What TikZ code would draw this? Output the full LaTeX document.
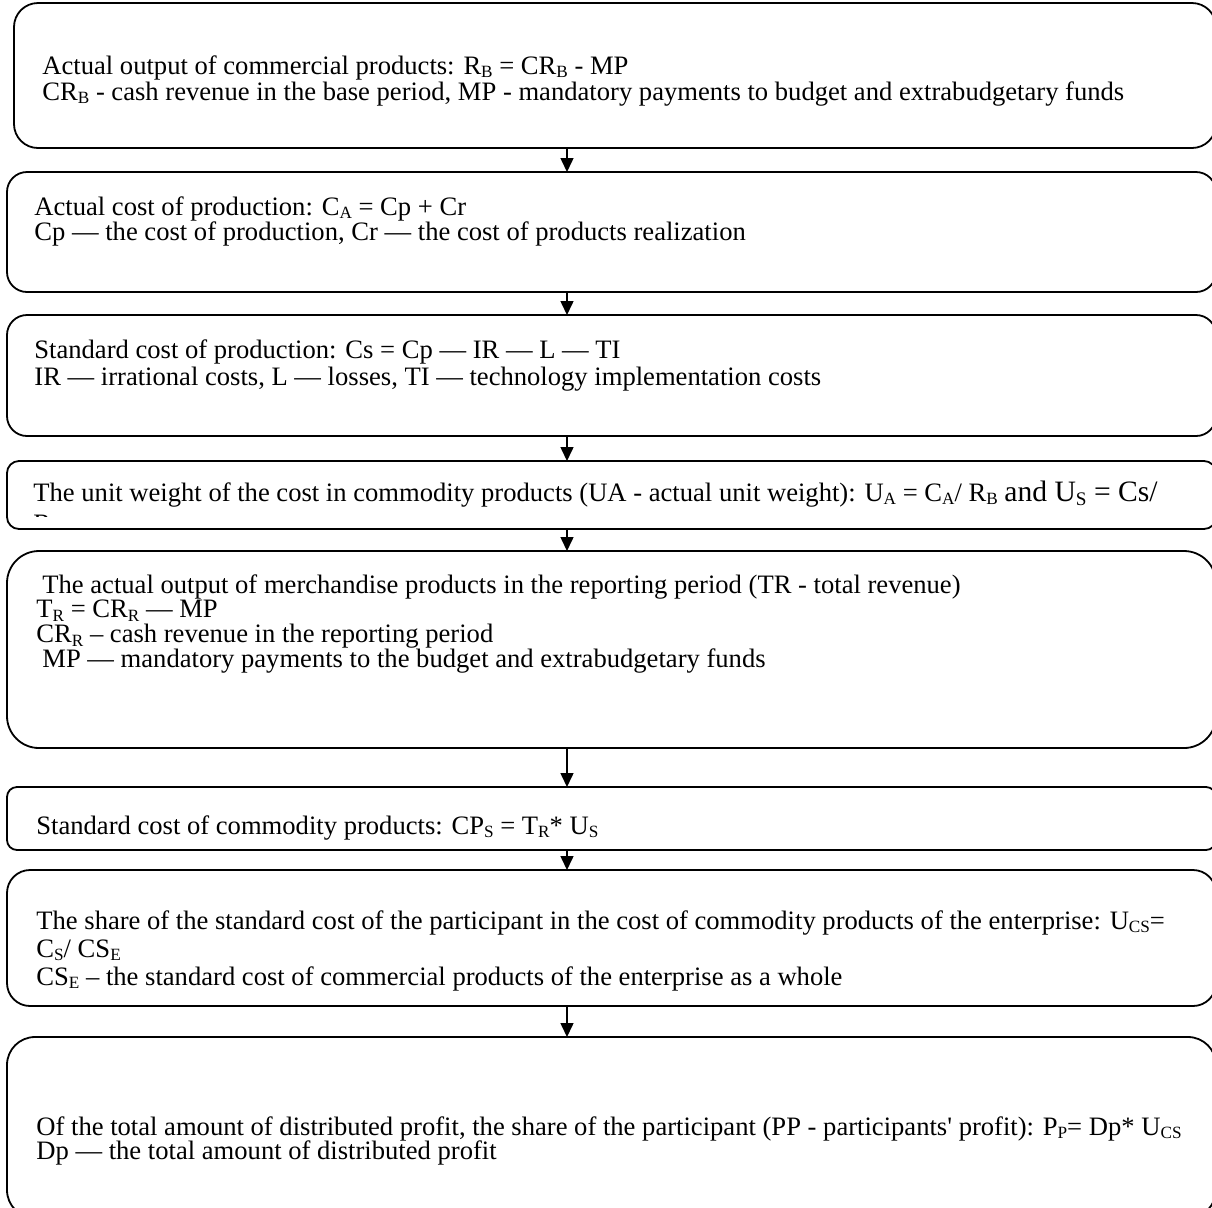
\documentclass[tikz,border=0pt]{standalone}
\usepackage{fontspec}
\setmainfont{Liberation Serif}[Ligatures=TeXOff]
\usetikzlibrary{arrows.meta}
\newcommand\sbs[1]{\raisebox{-0.14em}{\fontsize{8.6}{8.6}\selectfont #1}}
\newcommand\sbsL[1]{\raisebox{-0.14em}{\fontsize{9.6}{9.6}\selectfont #1}}
\newcommand\textlines[2]{\parbox[t]{590pt}{\fontsize{13.3}{#1}\selectfont\lineskiplimit=-50pt\raggedright #2}}
\tikzset{
  boxline/.style={draw=black, line width=0.9pt},
  txt/.style={anchor=base west, inner sep=0pt, font=\fontsize{13.3}{15}\selectfont},
  conn/.style={line width=0.75pt, -{Triangle[length=7pt,width=6.5pt]}},
}
\begin{document}
\begin{tikzpicture}[x=0.5pt,y=-0.5pt]
\useasboundingbox (0,0) rectangle (1212,1207);
\clip (0,0) rectangle (1212,1207);
% boxes
\draw[boxline, rounded corners=12pt] (14,3) rectangle (1216,148);
\draw[boxline, rounded corners=10pt] (7,172) rectangle (1216,292);
\draw[boxline, rounded corners=10pt] (7,315) rectangle (1216,436);
\draw[boxline, rounded corners=6pt] (7,461) rectangle (1216,529);
\draw[boxline, rounded corners=16pt] (7,551) rectangle (1216,748);
\draw[boxline, rounded corners=5pt] (7,787) rectangle (1216,850);
\draw[boxline, rounded corners=11.5pt] (7,870) rectangle (1216,1006);
\draw[boxline, rounded corners=14pt] (7,1037) rectangle (1216,1218);
% connector anchors
\coordinate (a1) at (567,148); \coordinate (b2) at (567,172);
\coordinate (a2) at (567,292); \coordinate (b3) at (567,315);
\coordinate (a3) at (567,436); \coordinate (b4) at (567,461);
\coordinate (a4) at (567,529); \coordinate (b5) at (567,551);
\coordinate (a5) at (567,748); \coordinate (b6) at (567,787);
\coordinate (a6) at (567,850); \coordinate (b7) at (567,870);
\coordinate (a7) at (567,1006); \coordinate (b8) at (567,1037);
\draw[conn] (a1) -- (b2);
\draw[conn] (a2) -- (b3);
\draw[conn] (a3) -- (b4);
\draw[conn] (a4) -- (b5);
\draw[conn] (a5) -- (b6);
\draw[conn] (a6) -- (b7);
\draw[conn] (a7) -- (b8);
% box 1
\node[txt] (t1) at (42,74) {\textlines{13pt}{Actual output of commercial products: R\sbs{B} = CR\sbs{B} - MP\\
CR\sbs{B} - cash revenue in the base period, MP - mandatory payments to budget and extrabudgetary funds}};
% box 2
\node[txt] (t2) at (34,215) {\textlines{12.5pt}{Actual cost of production: C\sbs{A} = Cp + Cr\\
Cp — the cost of production, Cr — the cost of products realization}};
% box 3
\node[txt] (t3) at (34,358) {\textlines{13.5pt}{Standard cost of production: Cs = Cp — IR — L — TI\\
IR — irrational costs, L — losses, TI — technology implementation costs}};
% box 4
\node[txt] (t41) at (33,501) {The unit weight of the cost in commodity products (UA - actual unit weight): U\sbs{A} = C\sbs{A}/ R\sbs{B} {\fontsize{14.8}{17}\selectfont and U\sbsL{S} = Cs/}};
\begin{scope}
\clip (0,461) rectangle (1212,516);
\node[txt] (t42) at (33,532.5) {R\sbs{B}};
\end{scope}
% box 5
\node[txt] (t5) at (36,593) {\textlines{12.4pt}{\hspace*{3pt}The actual output of merchandise products in the reporting period (TR - total revenue)\\
T\sbs{R} = CR\sbs{R} — MP\\
CR\sbs{R} – cash revenue in the reporting period\\
\hspace*{3pt}MP — mandatory payments to the budget and extrabudgetary funds}};
% box 6
\node[txt] (t6) at (36,834) {Standard cost of commodity products: CP\sbs{S} = T\sbs{R}* U\sbs{S}};
% box 7
\node[txt] (t7) at (36,929) {\textlines{14pt}{The share of the standard cost of the participant in the cost of commodity products of the enterprise: U\sbs{CS}=\\
C\sbs{S}/ CS\sbs{E}\\
CS\sbs{E} – the standard cost of commercial products of the enterprise as a whole}};
% box 8
\node[txt] (t8) at (36,1135) {\textlines{12pt}{Of the total amount of distributed profit, the share of the participant (PP - participants' profit): P\sbs{P}= Dp* U\sbs{CS}\\
Dp — the total amount of distributed profit}};
\end{tikzpicture}
\end{document}
